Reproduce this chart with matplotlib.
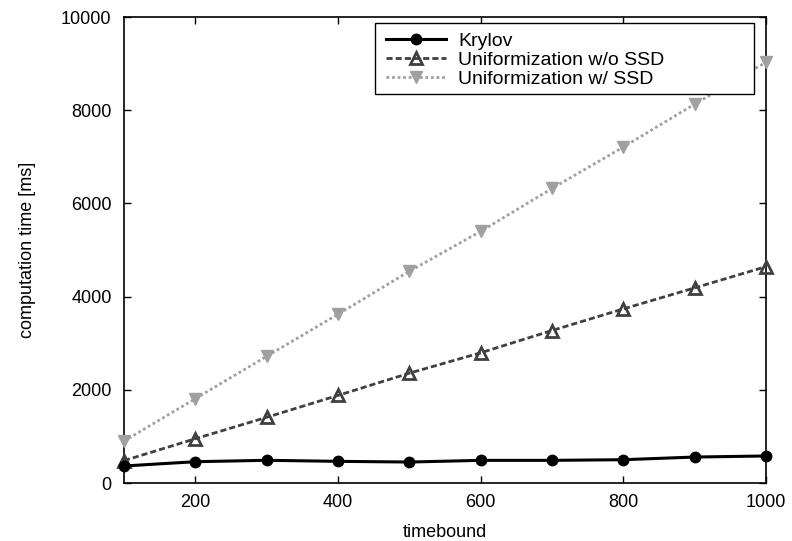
import numpy as np
import matplotlib
matplotlib.use('Agg')
import matplotlib.pyplot as plt
from matplotlib.patches import Rectangle

plt.rcParams['font.family'] = ['Liberation Sans', 'DejaVu Sans']

timebound = [100, 200, 300, 400, 500, 600, 700, 800, 900, 1000]
krylov = [365, 457, 487, 465, 450, 486, 486, 500, 557, 580]
unif_no_ssd = [480, 950, 1410, 1880, 2357, 2794, 3272, 3736, 4187, 4643]
unif_ssd = [900, 1810, 2720, 3620, 4543, 5400, 6320, 7210, 8130, 9030]

fig = plt.figure(figsize=(7.92, 5.41), dpi=100)
ax = fig.add_axes([124/792, 58/541, 642/792, 466/541])

ax.plot(timebound, krylov, color='black', lw=2.2, marker='o', ms=7.5,
        label='Krylov', clip_on=False, zorder=5)
ax.plot(timebound, unif_no_ssd, color='#404040', lw=2, ls=(0, (2.2, 1.1)),
        marker='^', ms=9, mfc='none', mec='#404040', mew=2,
        label='Uniformization w/o SSD', clip_on=False, zorder=4)
ax.plot(timebound, unif_ssd, color='#a0a0a0', lw=2, ls=(0, (1, 1)),
        marker='v', ms=8, mfc='#a0a0a0', mec='#a0a0a0',
        label='Uniformization w/ SSD', clip_on=False, zorder=3)

ax.set_xlim(100, 1000)
ax.set_ylim(0, 10000)
ax.set_xticks([200, 400, 600, 800, 1000])
ax.set_yticks([0, 2000, 4000, 6000, 8000, 10000])
ax.tick_params(direction='in', top=True, right=True, length=5, width=1,
               labelsize=13)
ax.tick_params(axis='y', pad=9)
ax.tick_params(axis='x', pad=8)
for s in ax.spines.values():
    s.set_linewidth(1.2)
ax.set_xlabel('timebound', fontsize=13, labelpad=9)
ax.set_ylabel('computation time [ms]', fontsize=13, labelpad=18)

# legend entries without frame, box drawn separately (gnuplot-style wide key)
leg = ax.legend(loc='upper left', bbox_to_anchor=(386/792, (541-32)/541),
                bbox_transform=fig.transFigure, fontsize=14,
                frameon=False, borderpad=0.0, labelspacing=0.07,
                handlelength=3.1, handletextpad=0.6, borderaxespad=0.0)
leg.set_zorder(10)
box = Rectangle((375/792, (541-94)/541), 379/792, 71/541,
                transform=fig.transFigure, facecolor='white',
                edgecolor='black', lw=1.0, zorder=9, clip_on=False)
ax.add_patch(box)

fig.savefig('out.png', dpi=100)
